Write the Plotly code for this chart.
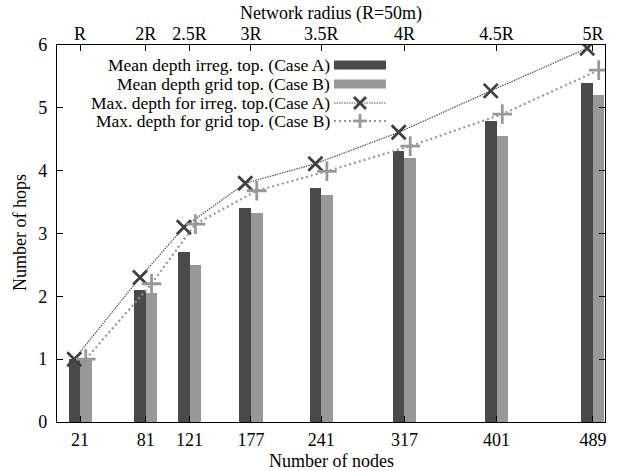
import plotly.graph_objects as go

nodes = [21, 81, 121, 177, 241, 317, 401, 489]
radius_labels = ["R", "2R", "2.5R", "3R", "3.5R", "4R", "4.5R", "5R"]
mean_irreg = [1.0, 2.1, 2.7, 3.41, 3.73, 4.31, 4.79, 5.39]
mean_grid = [1.0, 2.05, 2.5, 3.32, 3.61, 4.2, 4.55, 5.2]
max_irreg = [1.0, 2.3, 3.1, 3.8, 4.11, 4.61, 5.27, 5.95]
max_grid = [1.0, 2.2, 3.15, 3.68, 3.99, 4.39, 4.9, 5.6]

names = ["Mean depth irreg. top. (Case A)", "Mean depth grid top. (Case B)",
         "Max. depth for irreg. top.(Case A)", "Max. depth for grid top. (Case B)"]

DARK = "#4a4a4a"
LIGHT = "#989898"
FONT = "Liberation Serif"
FS = 18
BW = 10.5

W, H = 620, 471
L, R, T, B = 57, 15, 45, 49
pw, ph = W - L - R, H - T - B

def px2x(p):
    return (p - L) / pw

def px2y(p):
    return (H - B - p) / ph

fig = go.Figure()
fig.add_trace(go.Bar(x=nodes, y=mean_irreg, width=BW, offset=-BW, marker=dict(color=DARK, line=dict(width=0)), showlegend=False))
fig.add_trace(go.Bar(x=nodes, y=mean_grid, width=BW, offset=0, marker=dict(color=LIGHT, line=dict(width=0)), showlegend=False))
fig.add_trace(go.Scatter(x=[n - BW / 2 for n in nodes], y=max_irreg, mode="lines+markers",
                         line=dict(color="#555555", width=1.2, dash="1.5px,1px"),
                         marker=dict(symbol="x-thin", size=14, line=dict(color="#404040", width=2.8)),
                         showlegend=False))
fig.add_trace(go.Scatter(x=[n + BW / 2 for n in nodes], y=max_grid, mode="lines+markers",
                         line=dict(color=LIGHT, width=2.2, dash="2px,3px"),
                         marker=dict(symbol="cross-thin", size=14, line=dict(color=LIGHT, width=2.8)),
                         showlegend=False))
# invisible trace for top axis
fig.add_trace(go.Scatter(x=nodes, y=[0] * len(nodes), xaxis="x2", mode="markers",
                         marker=dict(opacity=0), showlegend=False, hoverinfo="skip"))

axfont = dict(family=FONT, size=FS, color="black")

# custom legend (text right-aligned, sample on right)
rows = [65, 84, 103, 121]
shapes = []
annotations = []
for i, (nm, py) in enumerate(zip(names, rows)):
    annotations.append(dict(x=px2x(331), y=px2y(py), xref="paper", yref="paper", text=nm,
                            showarrow=False, xanchor="right", yanchor="middle", borderpad=0,
                            font=dict(family=FONT, size=17.5, color="black")))
for py, col in [(rows[0], DARK), (rows[1], LIGHT)]:
    shapes.append(dict(type="rect", xref="paper", yref="paper", x0=px2x(334), x1=px2x(386),
                       y0=px2y(py + 4.5), y1=px2y(py - 4.5), fillcolor=col, line=dict(width=0)))
shapes.append(dict(type="line", xref="paper", yref="paper", x0=px2x(334), x1=px2x(386),
                   y0=px2y(rows[2]), y1=px2y(rows[2]), line=dict(color="#555555", width=1.2, dash="1.5px,1px")))
shapes.append(dict(type="line", xref="paper", yref="paper", x0=px2x(334), x1=px2x(386),
                   y0=px2y(rows[3]), y1=px2y(rows[3]), line=dict(color=LIGHT, width=2.2, dash="2px,3px")))
cx = 360
s = 6
shapes.append(dict(type="line", xref="paper", yref="paper", x0=px2x(cx - s), x1=px2x(cx + s),
                   y0=px2y(rows[2] - s), y1=px2y(rows[2] + s), line=dict(color="#404040", width=2.8)))
shapes.append(dict(type="line", xref="paper", yref="paper", x0=px2x(cx - s), x1=px2x(cx + s),
                   y0=px2y(rows[2] + s), y1=px2y(rows[2] - s), line=dict(color="#404040", width=2.8)))
shapes.append(dict(type="line", xref="paper", yref="paper", x0=px2x(cx - s - 1), x1=px2x(cx + s + 1),
                   y0=px2y(rows[3]), y1=px2y(rows[3]), line=dict(color=LIGHT, width=2.8)))
shapes.append(dict(type="line", xref="paper", yref="paper", x0=px2x(cx), x1=px2x(cx),
                   y0=px2y(rows[3] - s - 1), y1=px2y(rows[3] + s + 1), line=dict(color=LIGHT, width=2.8)))

# axis titles as annotations
annotations.append(dict(x=px2x(331), y=px2y(13), xref="paper", yref="paper", text="Network radius (R=50m)",
                        showarrow=False, xanchor="center", yanchor="middle", borderpad=0, font=axfont))
annotations.append(dict(x=px2x(331), y=px2y(461), xref="paper", yref="paper", text="Number of nodes",
                        showarrow=False, xanchor="center", yanchor="middle", borderpad=0, font=axfont))
annotations.append(dict(x=px2x(20), y=px2y(233), xref="paper", yref="paper", text="Number of hops",
                        showarrow=False, xanchor="center", yanchor="middle", textangle=-90, borderpad=0,
                        font=axfont))

fig.update_layout(
    width=W, height=H, margin=dict(l=L, r=R, t=T, b=B, autoexpand=False),
    plot_bgcolor="white", paper_bgcolor="white",
    font=axfont, barmode="overlay", bargap=0,
    shapes=shapes, annotations=annotations,
    xaxis=dict(range=[0, 500], tickvals=nodes, ticktext=[str(n) for n in nodes],
               ticks="inside", ticklen=6, tickcolor="black", showline=True, linecolor="black",
               linewidth=1.2, showgrid=False, zeroline=False, tickfont=axfont,
               ticklabelstandoff=1, automargin=False),
    xaxis2=dict(range=[0, 500], overlaying="x", side="top", tickvals=nodes, ticktext=radius_labels,
                ticks="inside", ticklen=6, tickcolor="black", showline=True, linecolor="black",
                linewidth=1.2, showgrid=False, zeroline=False, tickfont=axfont,
                ticklabelstandoff=-3, automargin=False),
    yaxis=dict(range=[0, 6], dtick=1, ticks="inside", ticklen=6, tickcolor="black",
               showline=True, linecolor="black", linewidth=1.2, mirror="ticks",
               showgrid=False, zeroline=False, tickfont=axfont, ticklabelstandoff=5,
               automargin=False),
)

fig.write_html("out.html")
